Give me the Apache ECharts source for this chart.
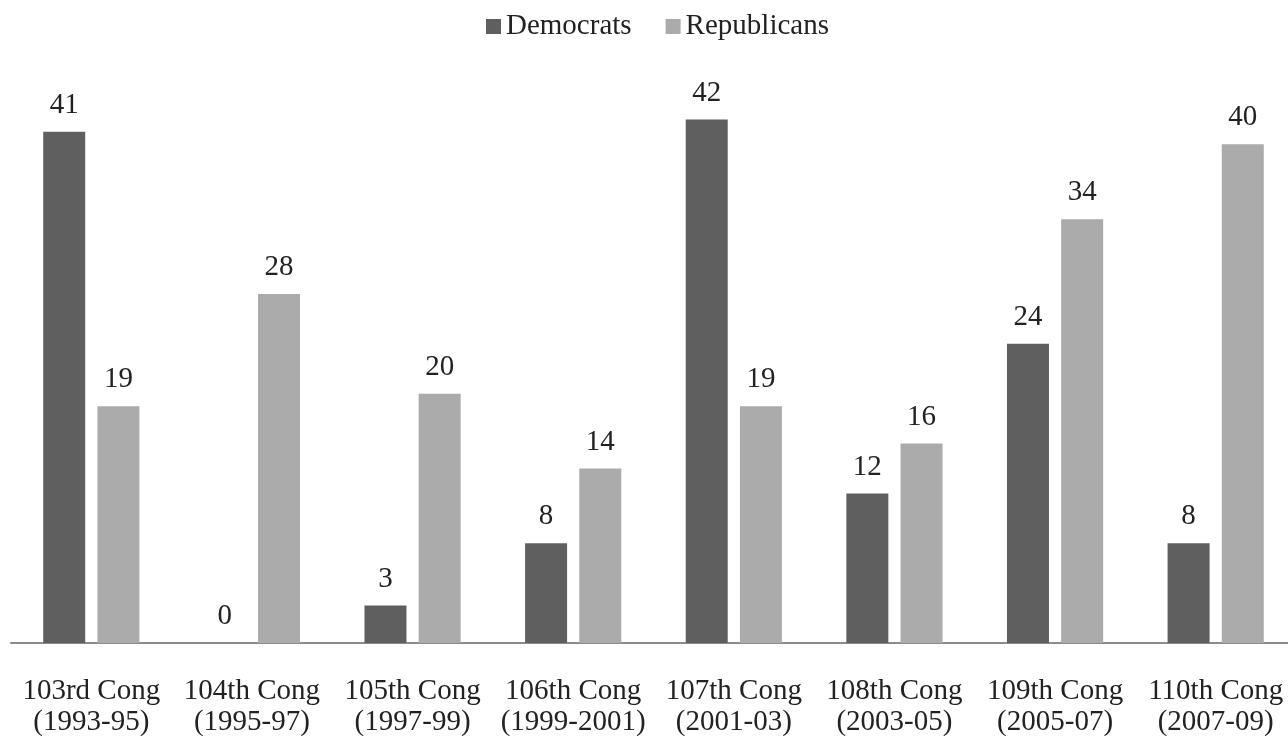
<!DOCTYPE html>
<html>
<head>
<meta charset="utf-8">
<script src="https://cdn.jsdelivr.net/npm/echarts@6/dist/echarts.min.js"></script>
<style>
  html, body { margin: 0; padding: 0; background: #fff; overflow: hidden; }
  #chart { width: 1296px; height: 738px; }
</style>
</head>
<body>
<div id="chart"></div>
<script>
const congresses = [
  '103rd Cong\n(1993-95)', '104th Cong\n(1995-97)', '105th Cong\n(1997-99)', '106th Cong\n(1999-2001)',
  '107th Cong\n(2001-03)', '108th Cong\n(2003-05)', '109th Cong\n(2005-07)', '110th Cong\n(2007-09)'
];
const democrats = [41, 0, 3, 8, 42, 12, 24, 8];
const republicans = [19, 28, 20, 14, 19, 16, 34, 40];

const chart = echarts.init(document.getElementById('chart'));
const font = '"Liberation Serif", "Times New Roman", serif';

const valueLabel = {
  show: true,
  position: 'top',
  distance: 12,
  color: '#222',
  fontFamily: font,
  fontSize: 29
};

chart.setOption({
  animation: false,
  textStyle: { fontFamily: font },
  legend: {
    top: 7,
    left: 481,
    itemWidth: 15,
    itemHeight: 15,
    itemGap: 34,
    icon: 'rect',
    textStyle: { fontFamily: font, fontSize: 29, color: '#222' },
    data: ['Democrats', 'Republicans']
  },
  grid: { left: 11, right: 0, top: 82, bottom: 94 },
  xAxis: {
    type: 'category',
    data: congresses,
    axisLine: { lineStyle: { color: '#8c8c8c', width: 2 } },
    axisTick: { show: false },
    axisLabel: {
      interval: 0,
      margin: 33,
      color: '#222',
      fontFamily: font,
      fontSize: 29,
      lineHeight: 31
    }
  },
  yAxis: {
    type: 'value',
    min: 0,
    max: 45,
    show: false,
    splitLine: { show: false }
  },
  series: [
    {
      name: 'Democrats',
      type: 'bar',
      data: democrats,
      barWidth: 42,
      barGap: '29%',
      itemStyle: { color: '#5f5f5f' },
      label: valueLabel
    },
    {
      name: 'Republicans',
      type: 'bar',
      data: republicans,
      barWidth: 42,
      itemStyle: { color: '#ababab' },
      label: valueLabel
    }
  ]
});
</script>
</body>
</html>
